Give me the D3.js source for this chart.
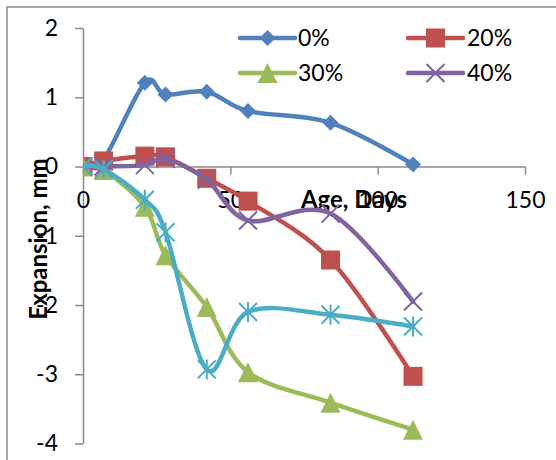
<!DOCTYPE html>
<html>
<head>
<meta charset="utf-8">
<script src="https://cdn.jsdelivr.net/npm/d3@7"></script>
<style>
  body { margin: 0; background: #fff; }
  svg { display: block; font-family: Lato, "Open Sans", "DejaVu Sans", sans-serif; }
</style>
</head>
<body>
<svg id="chart" width="556" height="460"></svg>
<script>
// Sample age in days
const days = [0, 7, 21, 28, 42, 56, 84, 112];

// Expansion (mm) for each replacement level
const exp0  = [0, 0.10, 1.21, 1.04, 1.08, 0.80, 0.63, 0.03];
const exp20 = [0, 0.08, 0.15, 0.14, -0.17, -0.50, -1.35, -3.03];
const exp30 = [0, -0.05, -0.58, -1.28, -2.03, -2.97, -3.41, -3.80];
const exp40 = [0, 0.00, 0.02, 0.11, -0.19, -0.78, -0.68, -1.95];
const exp50 = [0, -0.04, -0.48, -0.95, -2.93, -2.10, -2.14, -2.31];

const seriesNames = ["0%", "20%", "30%", "40%", "50%"];
const seriesColors = ["#4F81BD", "#C0504D", "#9BBB59", "#8064A2", "#4BACC6"];
const seriesMarkers = ["diamond", "square", "triangle", "x", "star"];

const xTicks = [0, 50, 100, 150];
const yTicks = [-4, -3, -2, -1, 0, 1, 2];

const xTitle = "Age, Days";
const yTitle = "Expansion, mm";

const series = [exp0, exp20, exp30, exp40, exp50].map((vals, i) => ({
  name: seriesNames[i],
  color: seriesColors[i],
  marker: seriesMarkers[i],
  points: days.map((d, j) => ({ x: d, y: vals[j] }))
}));

const svg = d3.select("#chart");
const axisColor = "#8a8a8a";

// Chart frame
svg.append("rect")
  .attr("x", 7).attr("y", 7)
  .attr("width", 570).attr("height", 470)
  .attr("fill", "none")
  .attr("stroke", axisColor)
  .attr("stroke-width", 1.5);

const x = d3.scaleLinear().domain([0, 150]).range([83, 525]);
const y = d3.scaleLinear().domain([-4, 2]).range([443.5, 28]);

// Y axis
const yAxis = svg.append("g")
  .attr("transform", `translate(${x(0)},0)`)
  .call(d3.axisLeft(y).tickValues(yTicks).tickSize(8).tickSizeOuter(0)
    .tickPadding(17).tickFormat(d => String(d)));

// X axis crossing at zero
const xAxis = svg.append("g")
  .attr("transform", `translate(0,${y(0)})`)
  .call(d3.axisBottom(x).tickValues(xTicks).tickSize(8).tickSizeOuter(0)
    .tickFormat(d => String(d)));

xAxis.selectAll(".tick text").attr("y", 41).attr("dy", 0);

[xAxis, yAxis].forEach(g => {
  g.select(".domain").attr("stroke", axisColor).attr("stroke-width", 1.5);
  g.selectAll(".tick line").attr("stroke", axisColor).attr("stroke-width", 1.5);
  g.selectAll(".tick text")
    .attr("fill", "#000")
    .style("font-size", "23px")
    .style("font-family", "Lato, 'Open Sans', sans-serif");
});

// Axis titles
svg.append("text")
  .attr("x", 354).attr("y", 208)
  .attr("text-anchor", "middle")
  .style("font-size", "24px").style("font-weight", "bold")
  .text(xTitle);

svg.append("text")
  .attr("transform", "translate(47,239) rotate(-90)")
  .attr("text-anchor", "middle")
  .style("font-size", "24px").style("font-weight", "bold")
  .text(yTitle);

// Plot-area clip
svg.append("clipPath").attr("id", "plotClip")
  .append("rect").attr("x", x(0)).attr("y", 0).attr("width", 500).attr("height", 460);

const plot = svg.append("g").attr("clip-path", "url(#plotClip)");

const line = d3.line()
  .x(d => x(d.x))
  .y(d => y(d.y))
  .curve(d3.curveCatmullRom.alpha(0));

function drawMarker(g, type, color) {
  if (type === "diamond") {
    g.append("path").attr("d", "M0,-8L8,0L0,8L-8,0Z").attr("fill", color);
  } else if (type === "square") {
    g.append("rect").attr("x", -9.5).attr("y", -9.5).attr("width", 19).attr("height", 19).attr("fill", color);
  } else if (type === "triangle") {
    g.append("path").attr("d", "M0,-10L10,10L-10,10Z").attr("fill", color);
  } else if (type === "x") {
    g.append("path").attr("d", "M-9,-9L9,9M9,-9L-9,9")
      .attr("stroke", color).attr("stroke-width", 2).attr("fill", "none");
  } else if (type === "star") {
    g.append("path").attr("d", "M-9,-9L9,9M9,-9L-9,9M0,-10V10")
      .attr("stroke", color).attr("stroke-width", 2).attr("fill", "none");
  }
}

series.forEach(s => {
  const g = plot.append("g");
  g.append("path")
    .datum(s.points)
    .attr("d", line)
    .attr("fill", "none")
    .attr("stroke", s.color)
    .attr("stroke-width", 4.5)
    .attr("stroke-linecap", "round")
    .attr("stroke-linejoin", "round");
  g.selectAll(".m").data(s.points).enter().append("g")
    .attr("transform", d => `translate(${x(d.x)},${y(d.y)})`)
    .each(function () { drawMarker(d3.select(this), s.marker, s.color); });
});

// Legend (two columns)
const legendPos = [
  { lx: 240, tx: 298, cy: 38 },
  { lx: 408, tx: 467, cy: 38 },
  { lx: 240, tx: 298, cy: 73 },
  { lx: 408, tx: 467, cy: 73 }
];
series.slice(0, 4).forEach((s, i) => {
  const p = legendPos[i];
  const g = svg.append("g");
  g.append("line")
    .attr("x1", p.lx).attr("x2", p.lx + 55)
    .attr("y1", p.cy).attr("y2", p.cy)
    .attr("stroke", s.color).attr("stroke-width", 4.5)
    .attr("stroke-linecap", "round");
  const m = g.append("g").attr("transform", `translate(${p.lx + 27.5},${p.cy})`);
  drawMarker(m, s.marker, s.color);
  g.append("text")
    .attr("x", p.tx).attr("y", p.cy + 8)
    .style("font-size", "23px")
    .text(s.name);
});
</script>
</body>
</html>
